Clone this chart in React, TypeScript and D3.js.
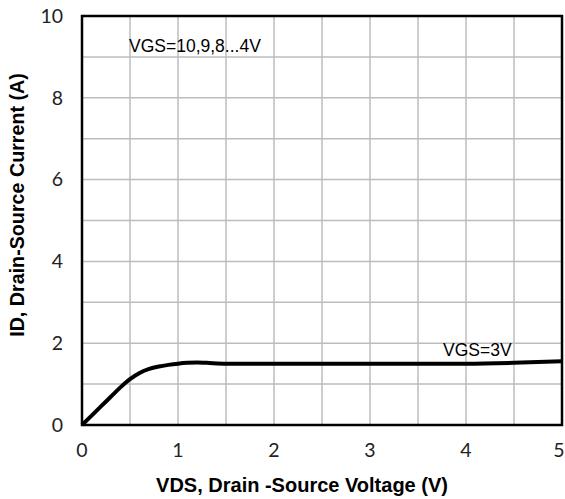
import { useEffect, useRef } from "react"
import * as d3 from "d3"

// Output characteristic, VGS = 3V (ID vs VDS)
const vds = [0, 0.1, 0.2, 0.3, 0.4, 0.5, 0.6, 0.7, 0.8, 0.9, 1.0, 1.1, 1.2, 1.3, 1.5, 2.0, 2.5, 3.0, 3.5, 4.0, 4.5, 5.0]
const id = [0, 0.23, 0.46, 0.69, 0.92, 1.12, 1.27, 1.37, 1.43, 1.47, 1.5, 1.52, 1.53, 1.52, 1.5, 1.5, 1.5, 1.5, 1.5, 1.5, 1.52, 1.56]

const xTicks = [0, 1, 2, 3, 4, 5]
const yTicks = [0, 2, 4, 6, 8, 10]
const xGrid = [0.5, 1, 1.5, 2, 2.5, 3, 3.5, 4, 4.5]
const yGrid = [1, 2, 3, 4, 5, 6, 7, 8, 9]

export default function App() {
    const ref = useRef<SVGSVGElement>(null)

    useEffect(() => {
        const width = 565, height = 499
        const marginLeft = 82, marginRight = 3, marginTop = 16, marginBottom = 74

        const svg = d3.select(ref.current)
        svg.selectAll("*").remove()

        const x = d3.scaleLinear().domain([0, 5]).range([marginLeft, width - marginRight])
        const y = d3.scaleLinear().domain([0, 10]).range([height - marginBottom, marginTop])

        svg.append("rect")
            .attr("width", width).attr("height", height).attr("fill", "white")

        // grid
        svg.append("g")
            .attr("stroke", "#bdbdbd").attr("stroke-width", 1.5)
            .selectAll("line")
            .data(xGrid)
            .join("line")
                .attr("x1", d => x(d)).attr("x2", d => x(d))
                .attr("y1", y(0)).attr("y2", y(10))
        svg.append("g")
            .attr("stroke", "#bdbdbd").attr("stroke-width", 1.5)
            .selectAll("line")
            .data(yGrid)
            .join("line")
                .attr("x1", x(0)).attr("x2", x(5))
                .attr("y1", d => y(d)).attr("y2", d => y(d))

        // plot border
        svg.append("rect")
            .attr("x", x(0)).attr("y", y(10))
            .attr("width", x(5) - x(0)).attr("height", y(0) - y(10))
            .attr("fill", "none").attr("stroke", "black").attr("stroke-width", 2.5)

        // curve
        const line = d3.line<number>()
            .x((_, i) => x(vds[i]))
            .y(d => y(d))
            .curve(d3.curveMonotoneX)
        svg.append("path")
            .datum(id)
            .attr("d", line)
            .attr("fill", "none").attr("stroke", "black").attr("stroke-width", 4)
            .attr("stroke-linejoin", "round")

        // tick labels (last one kept inside the picture edge)
        const tickFont = "'Liberation Sans Narrow', Lato, sans-serif"
        svg.append("g")
            .attr("font-family", tickFont).attr("font-size", 19.5).attr("text-anchor", "middle")
            .attr("fill", "#222")
            .selectAll("text")
            .data(xTicks)
            .join("text")
                .attr("x", d => Math.min(x(d), width - 6)).attr("y", y(0) + 32)
                .text(d => d)
        svg.append("g")
            .attr("font-family", tickFont).attr("font-size", 19.5).attr("text-anchor", "end")
            .attr("fill", "#222")
            .selectAll("text")
            .data(yTicks)
            .join("text")
                .attr("x", x(0) - 19).attr("y", d => y(d)).attr("dy", "0.35em")
                .text(d => d)

        // axis titles
        svg.append("text")
            .attr("font-family", "'Liberation Sans', Arial, sans-serif").attr("font-weight", "bold")
            .attr("font-size", 20).attr("text-anchor", "middle")
            .attr("x", 302).attr("y", 492)
            .text("VDS, Drain -Source Voltage (V)")
        svg.append("text")
            .attr("font-family", "'Liberation Sans', Arial, sans-serif").attr("font-weight", "bold")
            .attr("font-size", 19.7).attr("text-anchor", "middle")
            .attr("transform", `translate(24,205)rotate(-90)`)
            .text("ID, Drain-Source Current (A)")

        // annotations
        svg.append("text")
            .attr("font-family", "'Liberation Sans', Arial, sans-serif").attr("font-size", 17.5)
            .attr("x", 129).attr("y", 52)
            .text("VGS=10,9,8...4V")
        svg.append("text")
            .attr("font-family", "'Liberation Sans', Arial, sans-serif").attr("font-size", 17.5)
            .attr("x", 443).attr("y", 356)
            .text("VGS=3V")
    }, [])

    return (
        <svg ref={ref} width={565} height={499}
            style={{ position: "absolute", left: 0, top: 0, display: "block" }} />
    )
}
